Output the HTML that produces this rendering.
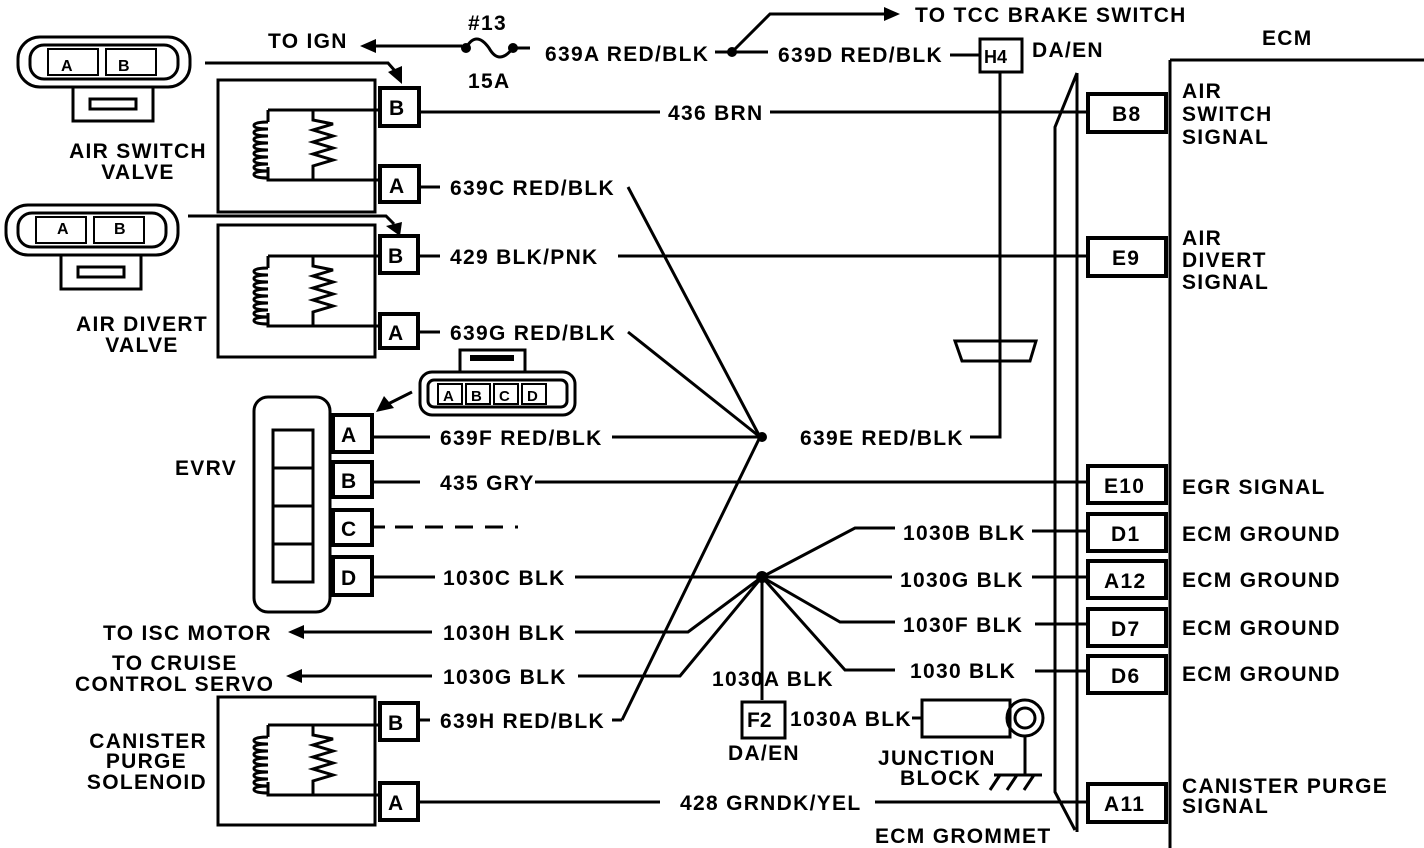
<!DOCTYPE html>
<html><head><meta charset="utf-8"><style>
html,body{margin:0;padding:0;background:#fff;}
svg{display:block;}
text{font-family:"Liberation Sans",sans-serif;font-weight:bold;font-size:21px;fill:#000;letter-spacing:1.3px;}
.s{fill:none;stroke:#000;stroke-width:3;}
.t{fill:none;stroke:#000;stroke-width:2;}
.p{fill:#fff;stroke:#000;stroke-width:4;}
</style></head><body>
<svg width="1424" height="848" viewBox="0 0 1424 848" xmlns="http://www.w3.org/2000/svg">
<defs>
<g id="coil">
<path class="s" d="M0,0 H130 M0,0 V12 M0,57 V70 H130 M0,12 q-14,0 -14,3.5 q0,3.5 14,3.5 q-14,0 -14,3.5 q0,3.5 14,3.5 q-14,0 -14,3.5 q0,3.5 14,3.5 q-14,0 -14,3.5 q0,3.5 14,3.5 q-14,0 -14,3.5 q0,3.5 14,3.5 q-14,0 -14,3.5 q0,3.5 14,3.5 q-14,0 -14,3.5 q0,3.5 14,3.5 q-14,0 -14,3.5 q0,3.5 14,3.5 M45,0 V10 l20,4 -20,6 20,6 -20,6 20,6 -20,6 20,6 -20,6 V70"/>
</g>
<g id="conn2">
<rect class="s" x="0" y="0" width="172" height="50" rx="22"/>
<rect class="s" x="12" y="8" width="148" height="34" rx="14"/>
<rect class="t" x="30" y="12" width="50" height="26"/>
<rect class="t" x="88" y="12" width="50" height="26"/>
<rect class="s" x="55" y="50" width="80" height="34"/>
<rect class="s" x="72" y="62" width="46" height="10"/>
</g>
</defs>

<path class="s" d="M372,46 H462 M516,48 H530"/>
<polygon points="360,46 376,39 376,53"/>
<text x="268" y="48">TO IGN</text>
<circle cx="466" cy="48" r="5"/><circle cx="513" cy="48" r="5"/>
<path class="s" d="M466,48 q10,-18 23,0 q10,18 24,0"/>
<text x="468" y="30">#13</text>
<text x="468" y="88">15A</text>
<text x="545" y="61">639A RED/BLK</text>
<circle cx="732" cy="52" r="5"/>
<path class="s" d="M715,52 H768 M732,52 L770,14 H888 M950,55 H980"/>
<polygon points="900,14 884,7 884,21"/>
<text x="915" y="22">TO TCC BRAKE SWITCH</text>
<text x="778" y="62">639D RED/BLK</text>
<rect class="s" x="980" y="39" width="42" height="33"/>
<text x="984" y="63" style="font-size:18px;letter-spacing:0">H4</text>
<text x="1032" y="57">DA/EN</text>

<path class="s" d="M1170,60 H1424 M1170,60 V848"/>
<text x="1262" y="45">ECM</text>
<path class="s" d="M1077,73 L1055,127 V792 L1075,830 M1077,73 V832"/>
<polygon class="s" points="955,341 1036,341 1030,361 962,361"/>
<path class="s" d="M1000,72 V437 H970"/>

<use href="#conn2" x="18" y="37"/>
<text x="61" y="71" style="font-size:16px">A</text><text x="118" y="71" style="font-size:16px">B</text>
<path class="s" d="M205,63 H388 L396,72"/>
<polygon points="402,84 388,72 402,66"/>
<text x="138" y="158" text-anchor="middle">AIR SWITCH</text>
<text x="138" y="179" text-anchor="middle">VALVE</text>
<rect class="s" x="218" y="80" width="157" height="132"/>
<use href="#coil" x="268" y="110"/>
<rect class="p" x="380" y="88" width="39" height="38"/><text x="389" y="115">B</text>
<rect class="p" x="380" y="166" width="39" height="36"/><text x="389" y="193">A</text>
<path class="s" d="M419,112 H660 M770,112 H1088"/>
<text x="668" y="120">436 BRN</text>
<path class="s" d="M419,187 H440 M628,187 L760,437"/>
<text x="450" y="195">639C RED/BLK</text>

<use href="#conn2" x="6" y="205"/>
<text x="57" y="234" style="font-size:16px">A</text><text x="114" y="234" style="font-size:16px">B</text>
<path class="s" d="M188,216 H386 L394,224"/>
<polygon points="400,236 386,226 402,222"/>
<text x="142" y="331" text-anchor="middle">AIR DIVERT</text>
<text x="142" y="352" text-anchor="middle">VALVE</text>
<rect class="s" x="218" y="225" width="157" height="132"/>
<use href="#coil" x="268" y="256"/>
<rect class="p" x="380" y="236" width="38" height="37"/><text x="388" y="263">B</text>
<rect class="p" x="380" y="314" width="38" height="34"/><text x="388" y="340">A</text>
<path class="s" d="M418,256 H440 M618,256 H1088 M418,332 H440 M628,332 L760,437"/>
<text x="450" y="264">429 BLK/PNK</text>
<text x="450" y="340">639G RED/BLK</text>

<rect class="s" x="420" y="372" width="155" height="43" rx="12"/>
<rect class="s" x="428" y="380" width="139" height="27" rx="6"/>
<rect class="t" x="438" y="384" width="24" height="20"/><rect class="t" x="466" y="384" width="24" height="20"/><rect class="t" x="494" y="384" width="24" height="20"/><rect class="t" x="522" y="384" width="24" height="20"/>
<text x="443" y="401" style="font-size:15px;letter-spacing:0">A</text><text x="471" y="401" style="font-size:15px;letter-spacing:0">B</text><text x="499" y="401" style="font-size:15px;letter-spacing:0">C</text><text x="527" y="401" style="font-size:15px;letter-spacing:0">D</text>
<rect class="s" x="460" y="350" width="65" height="22"/><rect x="470" y="355" width="44" height="6"/>
<path class="s" d="M412,392 L388,404"/>
<polygon points="376,412 384,396 394,408"/>
<rect class="s" x="254" y="397" width="76" height="215" rx="14"/>
<rect class="s" x="273" y="430" width="40" height="152"/>
<path class="s" d="M273,468 H313 M273,506 H313 M273,544 H313"/>
<text x="175" y="475">EVRV</text>
<rect class="p" x="333" y="415" width="39" height="37"/><text x="341" y="442">A</text>
<rect class="p" x="333" y="462" width="39" height="35"/><text x="341" y="488">B</text>
<rect class="p" x="333" y="510" width="39" height="35"/><text x="341" y="536">C</text>
<rect class="p" x="333" y="557" width="39" height="38"/><text x="341" y="585">D</text>
<path class="s" d="M372,437 H430 M612,437 H760"/>
<text x="440" y="445">639F RED/BLK</text>
<circle cx="762" cy="437" r="5"/>
<text x="800" y="445">639E RED/BLK</text>
<path class="s" d="M372,482 H420 M535,482 H1088"/>
<text x="440" y="490">435 GRY</text>
<path class="s" d="M372,527 H385" /><path class="s" stroke-dasharray="18,12" d="M395,527 H518"/>
<path class="s" d="M372,577 H435 M575,577 H892 M1032,577 H1088"/>
<text x="443" y="585">1030C BLK</text>

<circle cx="762" cy="577" r="6"/>
<path class="s" d="M762,577 L855,528 H895 M1032,531 H1088 M762,577 L840,622 H895 M1035,624 H1088 M762,577 L845,670 H895 M1035,671 H1088 M762,577 L688,632 H575 M762,577 L680,676 H578 M622,720 L760,437 M762,577 V700"/>
<text x="903" y="540">1030B BLK</text>
<text x="900" y="587">1030G BLK</text>
<text x="903" y="632">1030F BLK</text>
<text x="910" y="678">1030 BLK</text>
<text x="712" y="686">1030A BLK</text>
<rect class="s" x="742" y="702" width="43" height="36"/>
<text x="747" y="727" style="letter-spacing:0">F2</text>
<text x="790" y="726">1030A BLK</text>
<text x="728" y="760">DA/EN</text>
<path class="s" d="M912,718 H922"/>
<rect class="s" x="922" y="700" width="88" height="37"/>
<circle class="s" cx="1025" cy="718" r="18"/><circle class="s" cx="1025" cy="718" r="10"/>
<path class="s" d="M1025,736 V775 M994,775 H1042 M1000,775 L990,790 M1017,775 L1007,790 M1034,775 L1024,790"/>
<text x="878" y="765">JUNCTION</text>
<text x="900" y="785">BLOCK</text>

<text x="103" y="640">TO ISC MOTOR</text>
<polygon points="288,632 304,625 304,639"/>
<path class="s" d="M300,632 H432"/>
<text x="443" y="640">1030H BLK</text>
<text x="112" y="670">TO CRUISE</text>
<text x="75" y="691">CONTROL SERVO</text>
<polygon points="286,676 302,669 302,683"/>
<path class="s" d="M298,676 H432"/>
<text x="443" y="684">1030G BLK</text>

<rect class="s" x="218" y="697" width="157" height="128"/>
<use href="#coil" x="268" y="725"/>
<rect class="p" x="380" y="703" width="38" height="37"/><text x="388" y="730">B</text>
<rect class="p" x="380" y="783" width="38" height="37"/><text x="388" y="810">A</text>
<path class="s" d="M418,720 H430 M612,720 H622 M418,802 H660 M875,802 H1088"/>
<text x="440" y="728">639H RED/BLK</text>
<text x="680" y="810">428 GRNDK/YEL</text>
<text x="207" y="748" text-anchor="end">CANISTER</text>
<text x="187" y="768" text-anchor="end">PURGE</text>
<text x="207" y="789" text-anchor="end">SOLENOID</text>
<text x="875" y="843">ECM GROMMET</text>

<g>
<rect class="p" x="1088" y="94" width="78" height="38"/><text x="1112" y="121">B8</text>
<rect class="p" x="1088" y="238" width="78" height="38"/><text x="1112" y="265">E9</text>
<rect class="p" x="1088" y="466" width="78" height="37"/><text x="1104" y="493">E10</text>
<rect class="p" x="1088" y="514" width="78" height="37"/><text x="1111" y="541">D1</text>
<rect class="p" x="1088" y="561" width="78" height="37"/><text x="1104" y="588">A12</text>
<rect class="p" x="1088" y="609" width="78" height="37"/><text x="1111" y="636">D7</text>
<rect class="p" x="1088" y="656" width="78" height="37"/><text x="1111" y="683">D6</text>
<rect class="p" x="1088" y="784" width="78" height="38"/><text x="1104" y="811">A11</text>
</g>
<text x="1182" y="98">AIR</text><text x="1182" y="121">SWITCH</text><text x="1182" y="144">SIGNAL</text>
<text x="1182" y="245">AIR</text><text x="1182" y="267">DIVERT</text><text x="1182" y="289">SIGNAL</text>
<text x="1182" y="494">EGR SIGNAL</text>
<text x="1182" y="541">ECM GROUND</text>
<text x="1182" y="587">ECM GROUND</text>
<text x="1182" y="635">ECM GROUND</text>
<text x="1182" y="681">ECM GROUND</text>
<text x="1182" y="793">CANISTER PURGE</text>
<text x="1182" y="813">SIGNAL</text>
</svg>
</body></html>
